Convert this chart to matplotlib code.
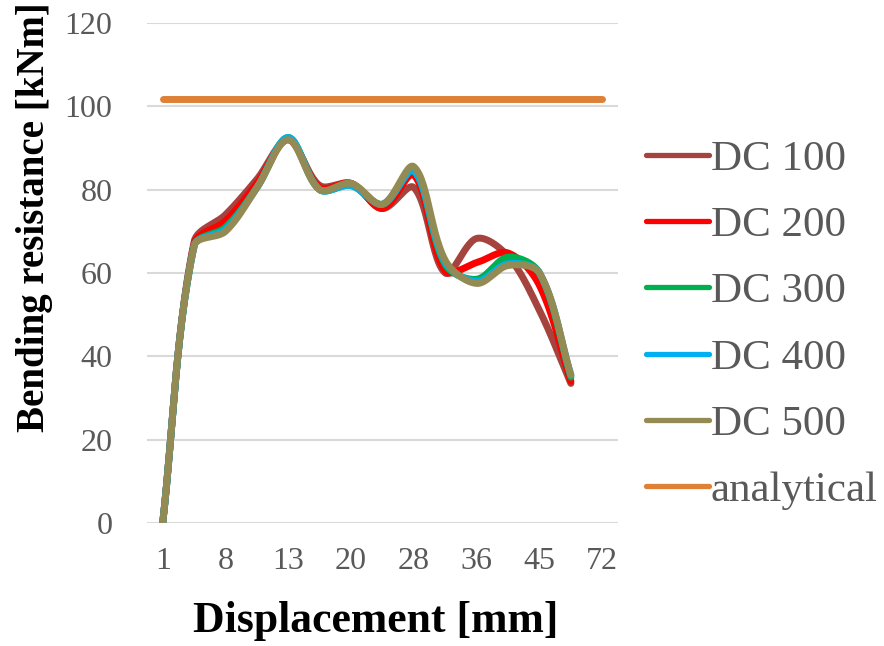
import numpy as np
import matplotlib
matplotlib.use('Agg')
import matplotlib.pyplot as plt

# category axis (Excel style): labels shown on every second category
categories = ['1', '', '8', '', '13', '', '20', '', '28', '', '36', '', '45', '', '72']

dc100 = [0, 67.5, 74, 82.5, 92, 81, 81.5, 75.5, 80.5, 60, 68.3, 64, 51, 33.5]
dc200 = [0, 67, 72.5, 81.5, 92, 80.5, 81.5, 75.5, 83.5, 60.5, 62.5, 64.8, 57, 34]
dc300 = [0, 66.5, 71, 80.5, 92.5, 80, 81, 76.5, 84.5, 62, 58.5, 63.8, 60, 35]
dc400 = [0, 66.5, 70.5, 80.5, 92.5, 80, 81, 76.5, 84.5, 62.5, 58, 62.2, 60, 35.5]
dc500 = [0, 66.5, 70, 80.5, 92, 80, 81.5, 76.5, 85.5, 63, 57.5, 61.8, 60, 35.5]
analytical = [101.8] * 15

series = [('DC 100', dc100, '#A5433F'),
          ('DC 200', dc200, '#FF0000'),
          ('DC 300', dc300, '#00B050'),
          ('DC 400', dc400, '#00B0F0'),
          ('DC 500', dc500, '#948A54'),
          ('analytical', analytical, '#DE8036')]

# pixel size of one category / one y unit, used to weight the smoothing
XS, YS = 31.4, 500 / 120


def smooth(y, n=30):
    # Excel-like smoothed line: cubic bezier, control arms weighted by segment length
    x = np.arange(len(y), dtype=float)
    p = np.column_stack([x * XS, np.asarray(y, dtype=float) * YS])
    ext = np.vstack([p[0], p, p[-1]])
    out = [p[:1]]
    t = np.linspace(0, 1, n)[1:, None]
    for i in range(len(p) - 1):
        p0, p1, p2, p3 = ext[i], ext[i + 1], ext[i + 2], ext[i + 3]
        l01 = np.hypot(*(p1 - p0))
        l12 = np.hypot(*(p2 - p1))
        l23 = np.hypot(*(p3 - p2))
        c1 = p1 + (p2 - p0) / 3 * l12 / max(l01 + l12, 1e-9)
        c2 = p2 - (p3 - p1) / 3 * l12 / max(l12 + l23, 1e-9)
        seg = ((1 - t) ** 3) * p1 + 3 * ((1 - t) ** 2) * t * c1 + 3 * (1 - t) * t ** 2 * c2 + t ** 3 * p2
        out.append(seg)
    s = np.vstack(out)
    return s[:, 0] / XS, s[:, 1] / YS


plt.rcParams['font.family'] = ['Liberation Serif', 'DejaVu Serif']

fig = plt.figure(figsize=(8.84, 6.46), dpi=100)
ax = fig.add_axes([147 / 884, 1 - 523 / 646, (618 - 147) / 884, 500 / 646])

for name, vals, col in series:
    xs, ys = smooth(vals)
    ax.plot(xs, ys, color=col, lw=5, label=name, solid_capstyle='round', solid_joinstyle='round')

ax.set_xlim(-0.5, len(categories) - 0.5)
ax.set_ylim(0, 120)
ax.set_yticks(np.arange(0, 121, 20))
ax.set_xticks(np.arange(len(categories)))
ax.set_xticklabels(categories)
ax.yaxis.grid(True, color='#D9D9D9', lw=1.5)
ax.set_axisbelow(True)
for s in ax.spines.values():
    s.set_visible(False)
ax.tick_params(axis='both', length=0, labelsize=23, labelcolor='#595959')
ax.tick_params(axis='y', pad=25)
ax.tick_params(axis='x', pad=17)

fig.text(376 / 884, 1 - 621 / 646, 'Displacement [mm]', fontsize=31.5, fontweight='bold',
         ha='center', va='center')
fig.text(35 / 884, 1 - 217 / 646, 'Bending resistance [kNm]', fontsize=28, fontweight='bold',
         ha='center', va='center', rotation=90)

leg = fig.legend(loc='center left', bbox_to_anchor=(629 / 884, 1 - 325 / 646), frameon=False,
                 fontsize=31, handlelength=1.45, handletextpad=0.05, labelspacing=0.63,
                 borderaxespad=0)
for t in leg.get_texts():
    t.set_color('#595959')
for h in leg.get_lines():
    h.set_linewidth(3.8)

fig.savefig('out.png', dpi=100)
